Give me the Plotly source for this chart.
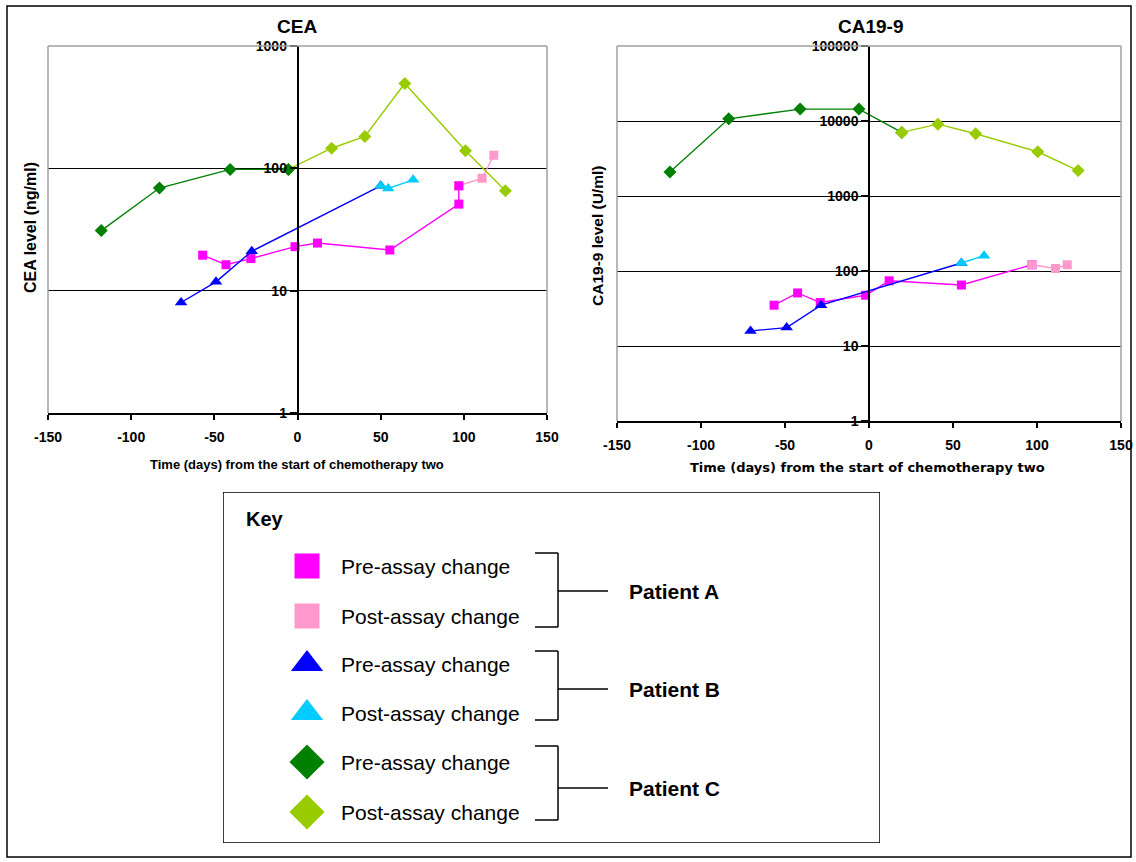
import plotly.graph_objects as go

# ---- CEA (left chart) ----
cea_a_pre_x = [-57, -43, -28, -1.5, 12, 55.5, 97, 97]
cea_a_pre_y = [19.5, 16.3, 18.3, 22.9, 24.5, 21.5, 51, 72]
cea_a_post_x = [97, 111, 118]
cea_a_post_y = [72, 83, 128]
cea_b_pre_x = [-70, -49, -27.5, 50]
cea_b_pre_y = [8.0, 11.8, 21, 72]
cea_b_post_x = [50, 54.5, 69.5]
cea_b_post_y = [72, 68.5, 80.5]
cea_c_pre_x = [-118, -83, -40.5, -5.5]
cea_c_pre_y = [31, 69, 98, 98]
cea_c_post_x = [-5.5, 20.5, 40.5, 64.5, 101, 125]
cea_c_post_y = [98, 146, 182, 494, 139, 65.5]

# ---- CA19-9 (right chart) ----
ca_a_pre_x = [-56.5, -42.5, -29, -2, 12, 55, 97]
ca_a_pre_y = [35, 51, 38, 47.5, 74, 65, 121]
ca_a_post_x = [97, 111, 118]
ca_a_post_y = [121, 108, 121]
ca_b_pre_x = [-70.5, -49, -28.5, 55]
ca_b_pre_y = [15.9, 17.6, 35, 128]
ca_b_post_x = [55, 68.5]
ca_b_post_y = [128, 160]
ca_c_pre_x = [-118.5, -83.5, -41, -6, 19.5]
ca_c_pre_y = [2090, 10700, 14400, 14400, 7040]
ca_c_post_x = [19.5, 41, 63.5, 100.5, 124.5]
ca_c_post_y = [7040, 9080, 6760, 3890, 2180]

x_ticks = [-150, -100, -50, 0, 50, 100, 150]
cea_ticks = [1, 10, 100, 1000]
ca_ticks = [1, 10, 100, 1000, 10000, 100000]

# key box rows
key_labels = ["Pre-assay change", "Post-assay change"] * 3
key_row_y = [566, 616, 664, 713, 762, 812]
key_patients = ["Patient A", "Patient B", "Patient C"]
key_patient_y = [591, 689, 788]
key_bracket = [(553, 627), (651, 720), (746, 820)]

MAGENTA = "#FF00FF"
PINK = "#FF99CC"
BLUE = "#0000FF"
CYAN = "#00CCFF"
GREEN = "#008000"
LIME = "#99CC00"
FONT = "Liberation Sans, Arial, sans-serif"

W, H = 1136, 862


def px(x):
    return x / W


def py(y):
    return 1 - y / H


fig = go.Figure()


def add_line(x, y, color, symbol, size, xa, ya):
    fig.add_trace(go.Scatter(
        x=x, y=y, mode="lines+markers", xaxis=xa, yaxis=ya, opacity=1,
        line=dict(color=color, width=1.4),
        marker=dict(color=color, symbol=symbol, size=size, opacity=1, line=dict(width=0)),
        showlegend=False, hoverinfo="x+y"))


# left chart (order keeps the right marker colour on shared points)
add_line(cea_a_post_x, cea_a_post_y, PINK, "square", 9, "x", "y")
add_line(cea_a_pre_x, cea_a_pre_y, MAGENTA, "square", 9, "x", "y")
add_line(cea_b_pre_x, cea_b_pre_y, BLUE, "triangle-up", 11, "x", "y")
add_line(cea_b_post_x, cea_b_post_y, CYAN, "triangle-up", 11, "x", "y")
add_line(cea_c_post_x, cea_c_post_y, LIME, "diamond", 10, "x", "y")
add_line(cea_c_pre_x, cea_c_pre_y, GREEN, "diamond", 10, "x", "y")

# right chart
add_line(ca_a_pre_x, ca_a_pre_y, MAGENTA, "square", 9, "x2", "y2")
add_line(ca_a_post_x, ca_a_post_y, PINK, "square", 9, "x2", "y2")
add_line(ca_b_pre_x, ca_b_pre_y, BLUE, "triangle-up", 11, "x2", "y2")
add_line(ca_b_post_x, ca_b_post_y, CYAN, "triangle-up", 11, "x2", "y2")
add_line(ca_c_pre_x, ca_c_pre_y, GREEN, "diamond", 10, "x2", "y2")
add_line(ca_c_post_x, ca_c_post_y, LIME, "diamond", 10, "x2", "y2")

# key markers
fig.add_trace(go.Scatter(
    x=[307] * 6, y=key_row_y, mode="markers", xaxis="x3", yaxis="y3", opacity=1,
    marker=dict(color=[MAGENTA, PINK, BLUE, CYAN, GREEN, LIME],
                symbol=["square", "square", "triangle-up", "triangle-up", "diamond", "diamond"],
                size=[25, 25, 28, 28, 27, 27], opacity=1, line=dict(width=0)),
    showlegend=False, hoverinfo="skip"))

tickfont = dict(family=FONT, size=14, color="black", weight="bold")

common_x = dict(range=[-150, 150], tickvals=x_ticks, ticktext=[str(v) for v in x_ticks],
                showgrid=False, zeroline=False,
                showline=True, linecolor="black", linewidth=1.5, ticks="outside",
                ticklen=5, tickcolor="black", tickwidth=1.5, tickfont=tickfont,
                ticklabelstandoff=5, automargin=False)
common_y = dict(type="log", showgrid=True, gridcolor="black", gridwidth=1.2,
                zeroline=False, showline=True, linecolor="black", linewidth=1.5,
                ticks="outside", ticklen=7, tickcolor="black", tickwidth=1.5,
                tickfont=tickfont, anchor="free", automargin=False)

fig.update_layout(
    width=W, height=H, margin=dict(l=0, r=0, t=0, b=0, pad=0, autoexpand=False),
    paper_bgcolor="white", plot_bgcolor="white", showlegend=False,
    xaxis=dict(common_x, domain=[px(48), px(547)], anchor="y"),
    yaxis=dict(common_y, domain=[py(413), py(46)], range=[0, 3],
               tickvals=cea_ticks, ticktext=[str(v) for v in cea_ticks],
               position=px(297.5)),
    xaxis2=dict(common_x, domain=[px(617), px(1121)], anchor="y2"),
    yaxis2=dict(common_y, domain=[py(421), py(46)], range=[0, 5],
                tickvals=ca_ticks, ticktext=[str(v) for v in ca_ticks],
                position=px(869)),
    xaxis3=dict(domain=[px(223), px(880)], range=[223, 880], visible=False,
                anchor="y3", automargin=False),
    yaxis3=dict(domain=[py(843), py(492)], range=[843, 492], visible=False,
                anchor="x3", automargin=False),
)

shapes = [
    # outer frame
    dict(type="rect", xref="paper", yref="paper", x0=px(7), x1=px(1131), y0=py(857), y1=py(6),
         line=dict(color="black", width=1.5)),
    # key box
    dict(type="rect", xref="x3", yref="y3", x0=223, x1=880, y0=492, y1=843,
         line=dict(color="black", width=1.5)),
]
# grey plot borders (top, left, right)
for xd, yd in [("x domain", "y domain"), ("x2 domain", "y2 domain")]:
    for x0, y0, x1, y1 in [(0, 1, 1, 1), (0, 0, 0, 1), (1, 0, 1, 1)]:
        shapes.append(dict(type="line", xref=xd, yref=yd, x0=x0, y0=y0, x1=x1, y1=y1,
                           line=dict(color="#A0A0A0", width=1.5)))
# key brackets
for (top, bot), mid in zip(key_bracket, key_patient_y):
    for seg in [(535, top, 558, top), (535, bot, 558, bot), (558, top, 558, bot), (558, mid, 608, mid)]:
        shapes.append(dict(type="line", xref="x3", yref="y3", x0=seg[0], y0=seg[1], x1=seg[2], y1=seg[3],
                           line=dict(color="black", width=1.5)))
fig.update_layout(shapes=shapes)

ann = [
    dict(text="CEA", x=px(297), y=py(27), size=19, fam=FONT),
    dict(text="CA19-9", x=px(870), y=py(27), size=19, fam=FONT),
    dict(text="Time (days) from the start of chemotherapy two", x=px(297), y=py(465), size=13, fam=FONT),
    dict(text="Time (days) from the start of chemotherapy two", x=px(867), y=py(467), size=13,
         fam="DejaVu Sans, sans-serif"),
    dict(text="CEA level (ng/ml)", x=px(30), y=py(228), size=16, angle=-90, fam=FONT),
    dict(text="CA19-9 level (U/ml)", x=px(598), y=py(236), size=15.5, angle=-90, fam=FONT),
]
annotations = []
for a in ann:
    annotations.append(dict(text=a["text"], x=a["x"], y=a["y"], xref="paper", yref="paper",
                            xanchor="center", yanchor="middle",
                            showarrow=False, textangle=a.get("angle", 0),
                            font=dict(family=a["fam"], size=a["size"], color="black", weight="bold")))
annotations.append(dict(text="Key", x=244, y=519, xref="x3", yref="y3", xanchor="left",
                        yanchor="middle", showarrow=False,
                        font=dict(family=FONT, size=20, color="black", weight="bold")))
for lab, yy in zip(key_labels, key_row_y):
    annotations.append(dict(text=lab, x=339, y=yy, xref="x3", yref="y3", xanchor="left",
                            yanchor="middle", showarrow=False,
                            font=dict(family=FONT, size=21, color="black")))
for lab, yy in zip(key_patients, key_patient_y):
    annotations.append(dict(text=lab, x=627, y=yy, xref="x3", yref="y3", xanchor="left",
                            yanchor="middle", showarrow=False,
                            font=dict(family=FONT, size=21, color="black", weight="bold")))
fig.update_layout(annotations=annotations)

fig.write_html("out.html", config={"displayModeBar": False},
               post_script="document.body.style.margin='0px';")
